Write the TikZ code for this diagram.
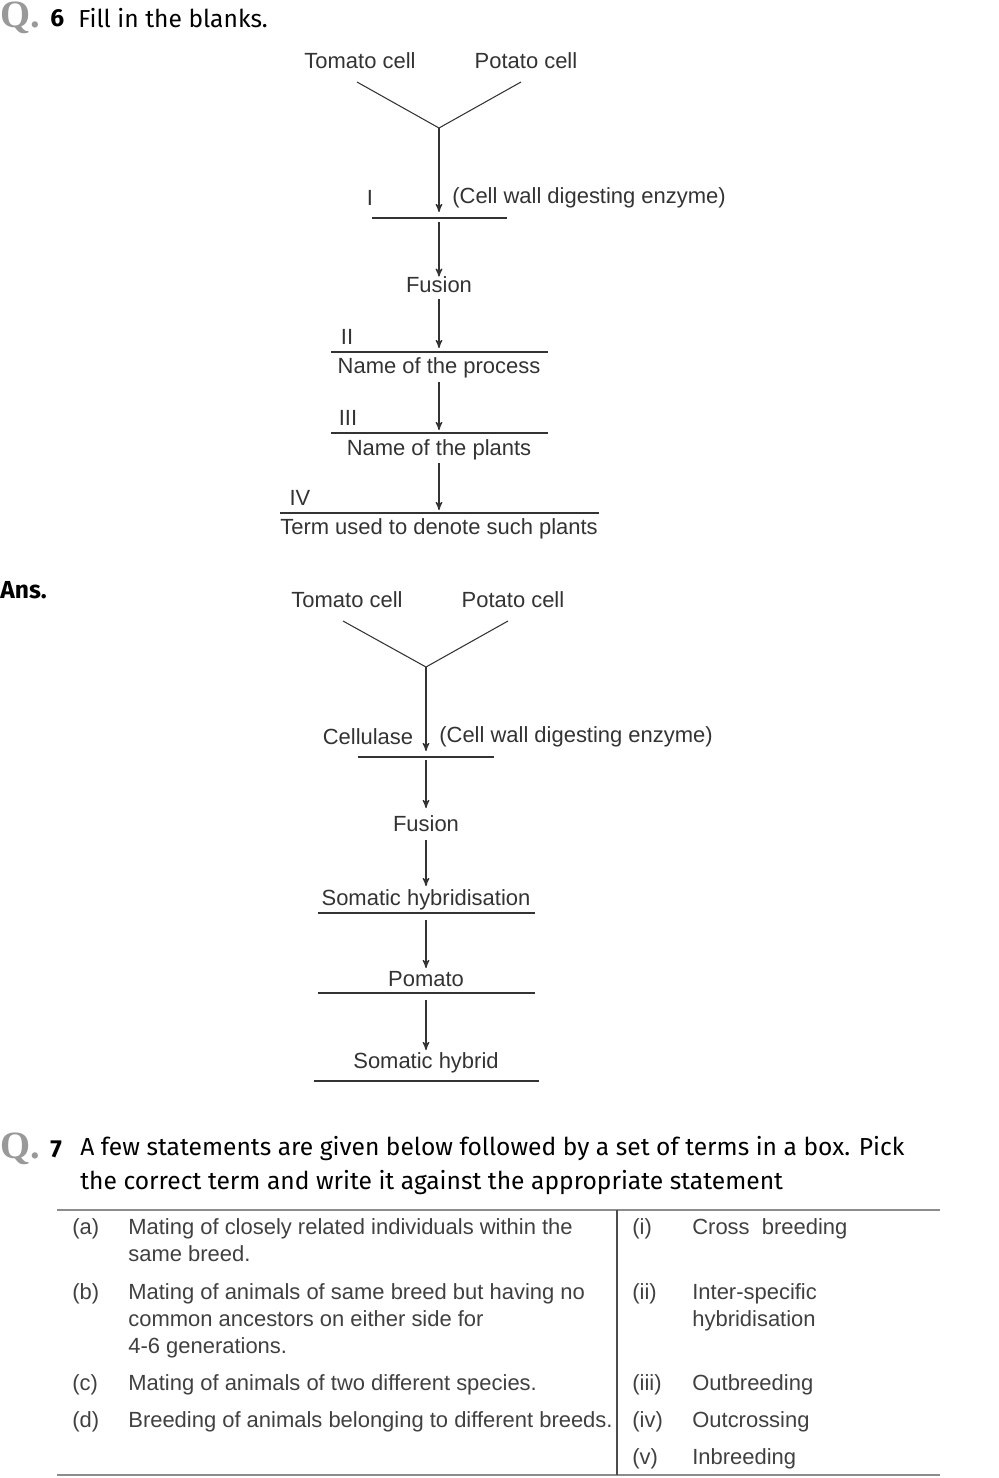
\documentclass[tikz,border=0pt]{standalone}
\usepackage{fontspec}
\setmainfont{Liberation Sans}
\newfontfamily\headfont{Fira Sans}
\newfontfamily\qfont{Liberation Serif}
\usetikzlibrary{positioning}
\usetikzlibrary{arrows}

\tikzset{
  lbl/.style={font=\fontsize{12.5}{14}\selectfont,text=black!80,inner sep=0pt},
  tbl/.style={font=\fontsize{12.5}{15.5}\selectfont,text=black!75,inner sep=0pt,anchor=north west,align=left},
  blank/.style={draw=black!80,line width=0.6pt},
  bar/.style={draw=black!80,line width=1.6pt},
  step arrow/.style={->,>=stealth',draw=black!80,line width=0.7pt},
  qmark/.style={font=\qfont\bfseries\fontsize{22}{22}\selectfont,text=black!40,inner sep=0pt,anchor=west},
  qtext/.style={font=\headfont\fontsize{14}{16}\selectfont,inner sep=0pt,anchor=west}
}

\begin{document}
\begin{tikzpicture}[x=0.02cm,y=-0.02cm]
  \useasboundingbox (0,0) rectangle (998,1478);

  % question 6
  \node[qmark] (q6) at (0,18) {Q.};
  \node[qtext,font=\headfont\bfseries\fontsize{14}{16}\selectfont] (q6n) at (50,18) {6};
  \node[qtext] (q6t) at (78,18) {Fill in the blanks.};

  \node[lbl] (tomA) at (360,61) {Tomato cell};
  \node[lbl] (potA) at (526,61) {Potato cell};
  \coordinate (tlA) at (357,82);
  \coordinate (plA) at (521,82);
  \coordinate (joinA) at (439,128);
  \draw[blank] (tlA) -- (joinA) -- (plA);
  \coordinate (barAl) at (372,218);
  \coordinate (barAr) at (507,218);
  \draw[step arrow] (joinA) -- (439,212);
  \draw[bar] (barAl) -- (barAr);
  \node[lbl] (iA) at (370,198) {I};
  \node[lbl,anchor=west] (enzA) at (452,198) {(Cell wall digesting enzyme)};
  \node[lbl] (fusA) at (439,285) {Fusion};
  \draw[step arrow] (439,222) -- (fusA.north);
  \node[lbl] (iiA) at (347,337) {II};
  \draw[blank] (331,352) coordinate (l2a) -- (548,352) coordinate (r2a);
  \draw[step arrow] (fusA.south) ++(0,6) -- (439,348);
  \node[lbl] (procA) at (439,368) {Name of the process};
  \node[lbl] (iiiA) at (348,418) {III};
  \draw[blank] (331,433) -- (548,433);
  \draw[step arrow] (439,382) -- (439,430);
  \node[lbl] (plantsA) at (439,450) {Name of the plants};
  \node[lbl] (ivA) at (300,498) {IV};
  \draw[blank] (280,513) -- (599,513);
  \draw[step arrow] (439,463) -- (439,510);
  \node[lbl] (termA) at (439,529) {Term used to denote such plants};

  % answer
  \node[qtext,font=\headfont\bfseries\fontsize{14}{16}\selectfont] (ans) at (0,590) {Ans.};
  \node[lbl] (tomB) at (347,600) {Tomato cell};
  \node[lbl] (potB) at (513,600) {Potato cell};
  \coordinate (tlB) at (343,621);
  \coordinate (plB) at (508,621);
  \coordinate (joinB) at (426,667);
  \draw[blank] (tlB) -- (joinB) -- (plB);
  \draw[step arrow] (joinB) -- (426,751);
  \draw[bar] (358,757) -- (494,757);
  \node[lbl] (cellB) at (368,737) {Cellulase};
  \node[lbl,anchor=west] (enzB) at (439,737) {(Cell wall digesting enzyme)};
  \node[lbl] (fusB) at (426,824) {Fusion};
  \draw[step arrow] (426,760) -- (426,808);
  \node[lbl] (somB) at (426,900) {Somatic hybridisation};
  \draw[blank] (318,913) -- (535,913);
  \draw[step arrow] (426,840) -- (426,886);
  \node[lbl] (pomB) at (426,979) {Pomato};
  \draw[blank] (318,993) -- (535,993);
  \draw[step arrow] (426,920) -- (426,968);
  \node[lbl] (hybB) at (426,1063) {Somatic hybrid};
  \draw[blank] (314,1081) -- (539,1081);
  \draw[step arrow] (426,1000) -- (426,1050);

  % question 7
  \node[qmark] (q7) at (0,1149) {Q.};
  \node[qtext,font=\headfont\bfseries\fontsize{14}{16}\selectfont] (q7n) at (50,1149) {7};
  \node[qtext] (q7t) at (80,1149) {A few statements are given below followed by a set of terms in a box. Pick};
  \node[qtext] (q7u) at (80,1183) {the correct term and write it against the appropriate statement};

  \draw[draw=black!45,line width=1.5pt] (57,1210) -- (940,1210);
  \draw[draw=black!45,line width=1.5pt] (57,1475) -- (940,1475);
  \draw[draw=black!70,line width=0.6pt] (617,1210) -- (617,1475);

  \foreach \k/\y/\t in {(a)/1218/{Mating of closely related individuals within the\\same breed.},
                        (b)/1283/{Mating of animals of same breed but having no\\common ancestors on either side for\\4-6 generations.},
                        (c)/1374/{Mating of animals of two different species.},
                        (d)/1411/{Breeding of animals belonging to different breeds.}}
  {
    \node[tbl] at (72,\y) {\k};
    \node[tbl] at (128,\y) {\t};
  }
  \foreach \k/\y/\t in {(i)/1218/{Cross\ \ breeding},
                        (ii)/1283/{Inter-specific\\hybridisation},
                        (iii)/1374/{Outbreeding},
                        (iv)/1411/{Outcrossing},
                        (v)/1448/{Inbreeding}}
  {
    \node[tbl] at (632,\y) {\k};
    \node[tbl] at (692,\y) {\t};
  }
\end{tikzpicture}
\end{document}
